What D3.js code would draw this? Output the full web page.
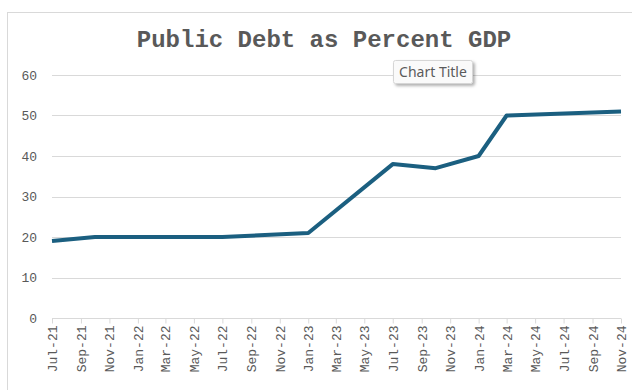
<!DOCTYPE html>
<html>
<head>
<meta charset="utf-8">
<script src="https://cdn.jsdelivr.net/npm/d3@7"></script>
<style>
  body { margin: 0; background: #fff; }
  svg { display: block; }
</style>
</head>
<body>
<div id="chart"></div>
<script>
"use strict";

// data
var dates  = ["2021-07-01", "2021-10-01", "2022-07-01", "2023-01-01", "2023-07-01",
              "2023-10-01", "2024-01-01", "2024-03-01", "2024-11-01"];
var values = [19, 20, 20, 21, 38, 37, 40, 50, 51];
var yTicks = [0, 10, 20, 30, 40, 50, 60];
var title  = "Public Debt as Percent GDP";

var width = 632, height = 390;
var parse = d3.timeParse("%Y-%m-%d");
var points = dates.map(function(d, i) { return { date: parse(d), value: values[i] }; });

var svg = d3.select("#chart")
  .append("svg")
  .attr("width", width)
  .attr("height", height);

// chart frame (runs off the bottom / right of the window)
svg.append("rect")
  .attr("x", 7.5).attr("y", 12.5)
  .attr("width", 700).attr("height", 500)
  .attr("fill", "#fff")
  .attr("stroke", "#d9d9d9");

var x = d3.scaleTime()
  .domain([parse("2021-07-01"), parse("2024-11-01")])
  .range([52, 621]);

var y = d3.scaleLinear()
  .domain([0, 60])
  .range([318, 75]);

// gridlines
svg.append("g")
  .selectAll("line")
  .data(yTicks.filter(function(d) { return d > 0; }))
  .join("line")
    .attr("x1", 52).attr("x2", 621)
    .attr("y1", function(d) { return Math.round(y(d)) + 0.5; })
    .attr("y2", function(d) { return Math.round(y(d)) + 0.5; })
    .attr("stroke", "#d9d9d9")
    .attr("stroke-width", 1);

// y axis labels
svg.append("g")
  .selectAll("text")
  .data(yTicks)
  .join("text")
    .attr("x", 37)
    .attr("y", function(d) { return y(d); })
    .attr("dy", "0.35em")
    .attr("text-anchor", "end")
    .attr("font-family", "Liberation Mono, Courier New, monospace")
    .attr("font-size", 13)
    .attr("fill", "#595959")
    .text(function(d) { return d; });

// x axis
var xAxis = d3.axisBottom(x)
  .ticks(d3.timeMonth.every(2))
  .tickFormat(d3.timeFormat("%b-%y"))
  .tickSize(5)
  .tickPadding(4);

var gx = svg.append("g")
  .attr("transform", "translate(0," + 318.5 + ")")
  .call(xAxis);

gx.select(".domain").attr("stroke", "#d9d9d9").attr("d", "M52,0H621");
gx.selectAll(".tick line").attr("stroke", "#d9d9d9");
gx.selectAll(".tick text")
  .attr("font-family", "Liberation Mono, Courier New, monospace")
  .attr("font-size", 13)
  .attr("fill", "#595959")
  .attr("text-anchor", "end")
  .attr("transform", "rotate(-90)")
  .attr("x", -7)
  .attr("y", 0)
  .attr("dy", "0.35em");

// the series
var line = d3.line()
  .x(function(d) { return x(d.date); })
  .y(function(d) { return y(d.value); });

svg.append("path")
  .datum(points)
  .attr("d", line)
  .attr("fill", "none")
  .attr("stroke", "#1b5f80")
  .attr("stroke-width", 4)
  .attr("stroke-linejoin", "round")
  .attr("stroke-linecap", "butt");

// title
svg.append("text")
  .attr("x", 324)
  .attr("y", 47)
  .attr("text-anchor", "middle")
  .attr("font-family", "Liberation Mono, Courier New, monospace")
  .attr("font-weight", "bold")
  .attr("font-size", 24)
  .attr("fill", "#595959")
  .text(title);

// hover tooltip left in the screenshot
var defs = svg.append("defs");
var f = defs.append("filter").attr("id", "shadow")
  .attr("x", "-20%").attr("y", "-20%").attr("width", "150%").attr("height", "170%");
f.append("feDropShadow")
  .attr("dx", 2).attr("dy", 2).attr("stdDeviation", 1.5)
  .attr("flood-color", "#000").attr("flood-opacity", 0.3);

var tip = svg.append("g").attr("transform", "translate(393.5,60.5)");
tip.append("rect")
  .attr("width", 79).attr("height", 23)
  .attr("rx", 2)
  .attr("fill", "#fafafa")
  .attr("stroke", "#d6d6d6")
  .attr("filter", "url(#shadow)");
tip.append("text")
  .attr("x", 39.5).attr("y", 16.5)
  .attr("text-anchor", "middle")
  .attr("font-family", "Noto Sans, Open Sans, sans-serif")
  .attr("font-size", 14)
  .attr("fill", "#5a5a5a")
  .text("Chart Title");
</script>
</body>
</html>
